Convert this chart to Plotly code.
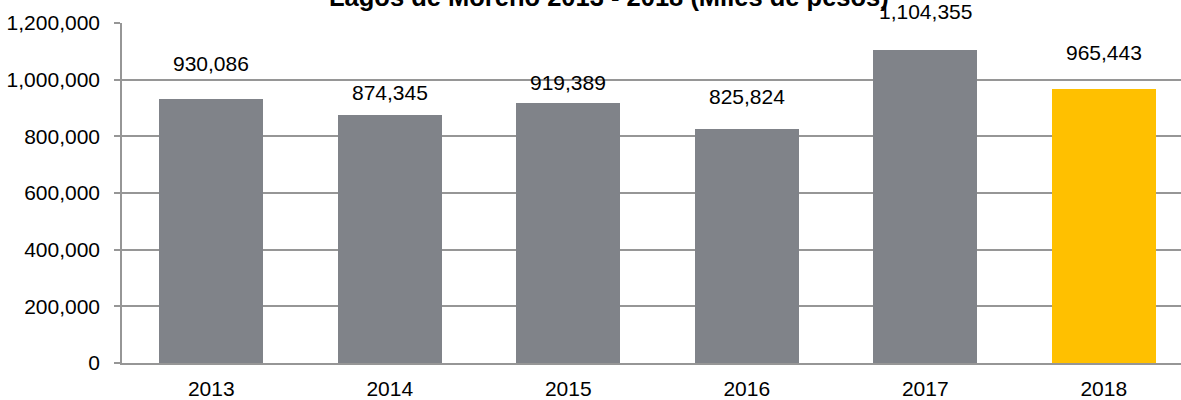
import plotly.graph_objects as go

# ---- data ----
years = ["2013", "2014", "2015", "2016", "2017", "2018"]
values = [930086, 874345, 919389, 825824, 1104355, 965443]
bar_colors = ["#808389", "#808389", "#808389", "#808389", "#808389", "#FFC000"]
label_texts = ["930,086", "874,345", "919,389", "825,824", "1,104,355", "965,443"]
label_offsets = [36, 23, 20, 33, 39, 37]  # px above bar top (label centre)
y_tickvals = [0, 200000, 400000, 600000, 800000, 1000000, 1200000]
y_ticktext = ["0", "200,000", "400,000", "600,000", "800,000", "1,000,000", "1,200,000"]
title_text = "Lagos de Moreno 2013 - 2018 (Miles de pesos)"

FONT = "Liberation Sans, Arial, sans-serif"

fig = go.Figure()
fig.add_trace(go.Bar(
    x=list(range(len(years))),
    y=values,
    marker=dict(color=bar_colors, line=dict(width=0)),
    width=0.58,
    hoverinfo="skip",
))

for i, (v, t, off) in enumerate(zip(values, label_texts, label_offsets)):
    fig.add_annotation(x=i, y=v, xref="x", yref="y", text=t, showarrow=False,
                       yanchor="middle", xanchor="center", yshift=off,
                       font=dict(family=FONT, size=21, color="#000000"))

fig.add_annotation(x=(609 - 122) / (1181 - 122), y=1, xref="paper", yref="paper",
                   text="<b>" + title_text + "</b>",
                   showarrow=False, xanchor="center", yanchor="middle", yshift=26,
                   font=dict(family=FONT, size=25.5, color="#000000"))

plot_w = 1181 - 122
spacing = 178.5

fig.update_layout(
    width=1181, height=400,
    margin=dict(l=122, r=0, t=23, b=35, pad=0),
    paper_bgcolor="white", plot_bgcolor="white",
    showlegend=False,
    bargap=0,
    font=dict(family=FONT, size=21, color="#000000"),
    xaxis=dict(
        range=[-0.5, -0.5 + plot_w / spacing],
        tickvals=list(range(len(years))), ticktext=years,
        showgrid=False, zeroline=False,
        showline=True, linecolor="#969696", linewidth=1.5,
        ticks="", ticklabelstandoff=6,
        tickfont=dict(family=FONT, size=21, color="#000000"),
    ),
    yaxis=dict(
        range=[0, 1200000],
        tickvals=y_tickvals, ticktext=y_ticktext,
        showgrid=True, gridcolor="#969696", gridwidth=1.5,
        zeroline=False,
        showline=True, linecolor="#969696", linewidth=1.5,
        ticks="outside", ticklen=6, tickcolor="#969696", tickwidth=1.5,
        ticklabelstandoff=10,
        tickfont=dict(family=FONT, size=21, color="#000000"),
    ),
)

fig.write_html(
    "out.html",
    config={"displayModeBar": False},
    post_script="document.body.style.margin='0';document.body.style.overflow='hidden';",
)
